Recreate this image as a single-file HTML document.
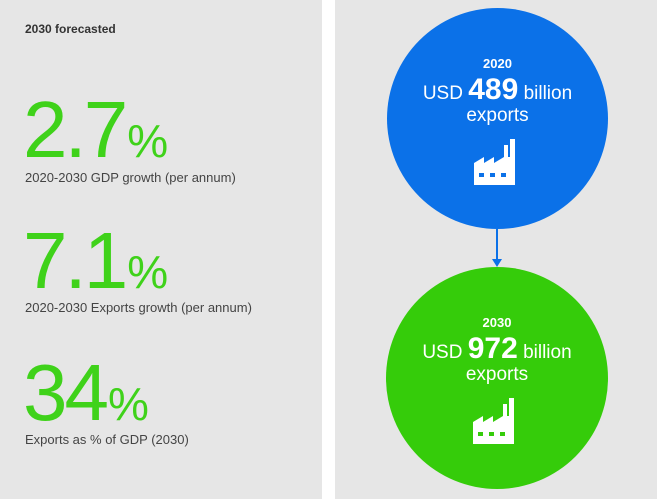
<!DOCTYPE html>
<html><head><style>
body{margin:0;width:657px;height:499px;background:#fff;position:relative;overflow:hidden;font-family:"Liberation Sans",sans-serif;}
.l{position:absolute;left:0;top:0;width:322px;height:499px;background:#e6e6e6;}
.r{position:absolute;left:335px;top:0;width:322px;height:499px;background:#e6e6e6;}
.t{position:absolute;left:25px;top:22px;font-size:12px;font-weight:bold;color:#333;}
.big{position:absolute;left:23px;color:#3fd21a;font-size:80px;line-height:1;letter-spacing:-3px;}
.big span{font-size:46px;letter-spacing:0;margin-left:2px;}
.lab{position:absolute;left:25px;font-size:13px;color:#444;}
.c{position:absolute;border-radius:50%;color:#fff;text-align:center;}
.y{font-size:13px;font-weight:bold;}
.u{font-size:19px;line-height:22px;}
.u b{font-size:30px;}
</style></head><body>
<div class="l"></div><div class="r"></div>
<div class="t">2030 forecasted</div>
<div class="big" style="top:90px">2.7<span>%</span></div>
<div class="lab" style="top:170px">2020-2030 GDP growth (per annum)</div>
<div class="big" style="top:221px">7.1<span>%</span></div>
<div class="lab" style="top:300px">2020-2030 Exports growth (per annum)</div>
<div class="big" style="top:353px">34<span>%</span></div>
<div class="lab" style="top:432px">Exports as % of GDP (2030)</div>

<div class="c" style="left:387px;top:8px;width:221px;height:221px;background:#0b71e8">
<div class="y" style="margin-top:48px">2020</div>
<div class="u" style="margin-top:8px">USD <b>489</b> billion<br>exports</div>
<svg width="48" height="46" viewBox="0 0 48 46" style="margin-top:12px"><path d="M0 46V24l10-6v6l10-6v6l10-6V6h4v12h2V0h5v46z" fill="#fff"/><rect x="5" y="34" width="5" height="4" fill="#0b71e8"/><rect x="16" y="34" width="5" height="4" fill="#0b71e8"/><rect x="27" y="34" width="5" height="4" fill="#0b71e8"/></svg>
</div>
<div style="position:absolute;left:496px;top:229px;width:2px;height:32px;background:#0b71e8"></div>
<div style="position:absolute;left:492px;top:259px;border-left:5px solid transparent;border-right:5px solid transparent;border-top:8px solid #0b71e8"></div>
<div class="c" style="left:386px;top:267px;width:222px;height:222px;background:#35cc0a">
<div class="y" style="margin-top:48px">2030</div>
<div class="u" style="margin-top:8px">USD <b>972</b> billion<br>exports</div>
<svg width="48" height="46" viewBox="0 0 48 46" style="margin-top:12px"><path d="M0 46V24l10-6v6l10-6v6l10-6V6h4v12h2V0h5v46z" fill="#fff"/><rect x="5" y="34" width="5" height="4" fill="#35cc0a"/><rect x="16" y="34" width="5" height="4" fill="#35cc0a"/><rect x="27" y="34" width="5" height="4" fill="#35cc0a"/></svg>
</div>
</body></html>
